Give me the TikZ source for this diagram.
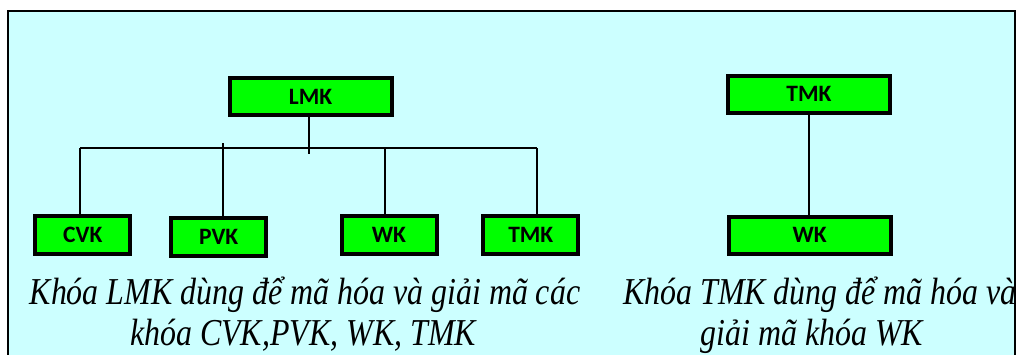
\documentclass[tikz,border=0pt]{standalone}
\usepackage{fontspec}
\setmainfont{Liberation Serif}
\newfontfamily\boxfont{Carlito}
\newfontfamily\capfont[FakeStretch=0.84]{Liberation Serif}
\definecolor{panel}{HTML}{CCFFFF}
\definecolor{keygreen}{HTML}{00FF00}
\begin{document}
\begin{tikzpicture}[x=1pt,y=-1pt,
  keybox/.style={draw=black,line width=4pt,fill=keygreen,
    minimum width=95pt,minimum height=38pt,inner sep=0pt,
    font=\boxfont\bfseries\fontsize{23.5}{26}\selectfont},
  widebox/.style={keybox,minimum width=162pt,minimum height=37pt},
  link/.style={draw=black,line width=2pt},
  caption/.style={font=\capfont\itshape\fontsize{38}{43}\selectfont,
    inner sep=0pt,anchor=base}]
\useasboundingbox (0,0) rectangle (1017,354);
% panel
\begin{scope}
\clip (0,0) rectangle (1017,354);
\fill[panel] (8,11) rectangle (1015,360);
\draw[black,line width=2.5pt] (8,360) -- (8,11) -- (1015,11) -- (1015,360);
\end{scope}
% left tree
\node[widebox] (LMK) at (310.5,96.5) {LMK};
\node[keybox] (CVK) at (82.8,235) {CVK};
\node[keybox] (PVK) at (218.7,237) {PVK};
\node[keybox] (WK) at (389,235) {WK};
\node[keybox] (TMK) at (530.8,235) {TMK};
\coordinate (busL) at (80,148);
\coordinate (busR) at (537.4,148);
\coordinate (stemEnd) at (309,154);
\draw[link] (busL) -- (busR);
\draw[link] (LMK.south -| stemEnd) -- (stemEnd);
\draw[link] ([xshift=-2.8pt]CVK.north) -- ([xshift=-2.8pt]CVK.north |- busL);
\draw[link] ([xshift=3.8pt]PVK.north) -- ++(0,-73);
\draw[link] ([xshift=-4.3pt]WK.north) -- ([xshift=-4.3pt]WK.north |- busL);
\draw[link] ([xshift=6.6pt]TMK.north) -- ([xshift=6.6pt]TMK.north |- busL);
% right tree
\node[widebox] (TMKr) at (808.9,94.2) {TMK};
\node[widebox] (WKr) at (809.7,235) {WK};
\draw[link] (TMKr.south) -- (TMKr.south |- WKr.north);
% captions
\node[caption] (capL1) at (305,304) {Khóa LMK dùng để mã hóa và giải mã các};
\node[caption] (capL2) at (303,345) {khóa CVK,PVK, WK, TMK};
\node[caption] (capR1) at (820,304) {Khóa TMK dùng để mã hóa và};
\node[caption] (capR2) at (812,345) {giải mã khóa WK};
\end{tikzpicture}
\end{document}
